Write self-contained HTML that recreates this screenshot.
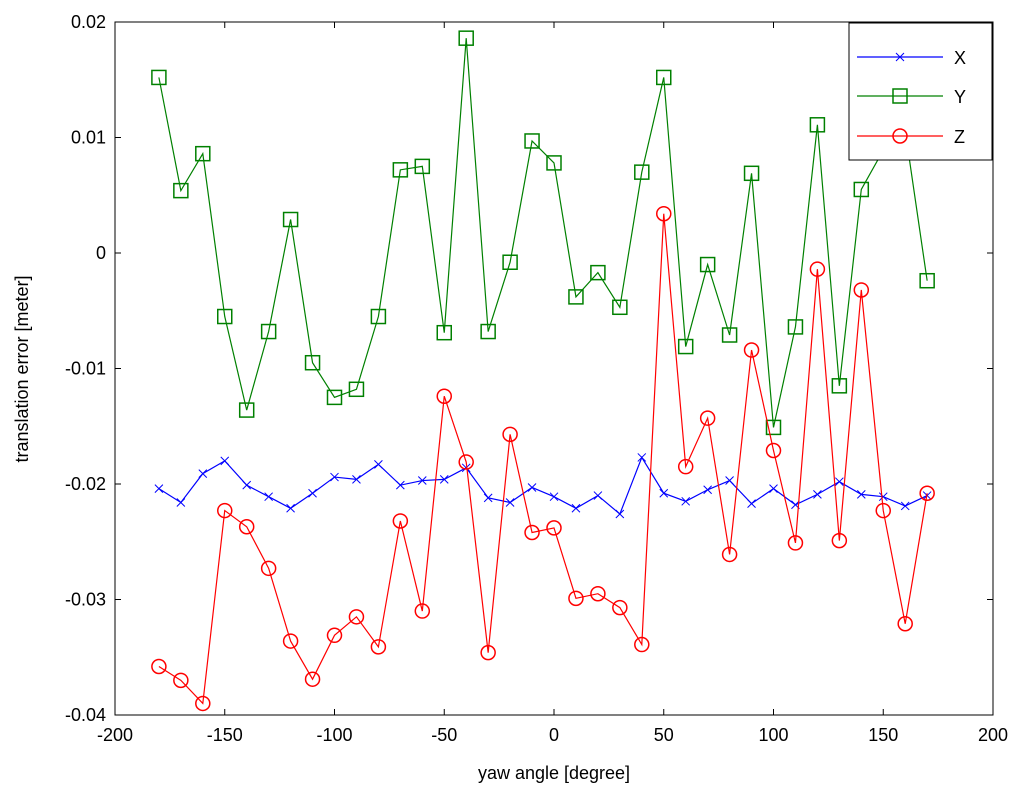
<!DOCTYPE html>
<html><head><meta charset="utf-8"><style>
body{margin:0;background:#fff;}
svg{display:block;font-family:"Liberation Sans",sans-serif;}
</style></head><body>
<svg id="chart" width="1024" height="795">
<rect x="0" y="0" width="1024" height="795" fill="#fff"/>
<g id="grid"></g>
<g id="series"></g>
</svg>
<script>
const xs=[-180,-170,-160,-150,-140,-130,-120,-110,-100,-90,-80,-70,-60,-50,-40,-30,-20,-10,0,10,20,30,40,50,60,70,80,90,100,110,120,130,140,150,160,170];
const pxX=[489,502,474,461,485,497,508,493,477,479,464,485,480,479,468,498,502,487,497,508,495,514,458,493,501,490,480,504,489,505,494,482,494,497,506,495];
const pxY=[77,191,154,316,410,331,220,363,397,389,316,170,166,333,38,331,262,141,163,297,273,307,172,77,346,265,335,173,427,327,125,386,190,150,130,281];
const pxZ=[667,680,704,511,527,568,641,679,635,617,647,521,611,396,462,653,434,533,528,598,594,608,645,214,467,418,554,350,451,543,269,541,290,511,624,493];
const conv=a=>a.map(p=>+((253-p)/11550).toFixed(4));
const seriesX=conv(pxX), seriesY=conv(pxY), seriesZ=conv(pxZ);
const xTicks=[-200,-150,-100,-50,0,50,100,150,200];
const yTicks=[0.02,0.01,0,-0.01,-0.02,-0.03,-0.04];
const yTickLabels=["0.02","0.01","0","-0.01","-0.02","-0.03","-0.04"];

const L=115,R=993,T=22,B=715;
const sx=v=>L+(v+200)/400*(R-L);
const sy=v=>T+(0.02-v)/0.06*(B-T);
const NS="http://www.w3.org/2000/svg";
const svg=document.getElementById('chart');
function mk(t,a,p){const e=document.createElementNS(NS,t);for(const k in a)e.setAttribute(k,a[k]);(p||svg).appendChild(e);return e;}
const g=document.getElementById('grid');
let ax=mk('rect',{x:L,y:T,width:R-L,height:B-T,fill:'none',stroke:'#000','stroke-width':1},g);


xTicks.forEach(v=>{const x=sx(v);
mk('line',{x1:x,y1:B,x2:x,y2:B-6,stroke:'#000'},g);mk('line',{x1:x,y1:T,x2:x,y2:T+6,stroke:'#000'},g);
const t=mk('text',{x:x,y:741,'text-anchor':'middle','font-size':18},g);t.textContent=v;

});
yTicks.forEach((v,i)=>{const y=sy(v);
mk('line',{x1:L,y1:y,x2:L+6,y2:y,stroke:'#000'},g);mk('line',{x1:R,y1:y,x2:R-6,y2:y,stroke:'#000'},g);
const t=mk('text',{x:106,y:y+6,'text-anchor':'end','font-size':18},g);t.textContent=yTickLabels[i];

});
let xl=mk('text',{x:554,y:779,'text-anchor':'middle','font-size':18},g);xl.textContent='yaw angle [degree]';


let yl=mk('text',{x:0,y:0,'text-anchor':'middle','font-size':18,transform:'translate(28,369) rotate(-90)'},g);yl.textContent='translation error [meter]';



const sg=document.getElementById('series');
function marker(type,x,y,c,p){
 if(type==='x'){mk('path',{d:`M${x-4},${y-4}L${x+4},${y+4}M${x-4},${y+4}L${x+4},${y-4}`,stroke:c,fill:'none'},p);}
 else if(type==='s'){mk('rect',{x:x-7,y:y-7,width:14,height:14,stroke:c,fill:'none','stroke-width':1.5},p);}
 else mk('circle',{cx:x,cy:y,r:7,stroke:c,fill:'none','stroke-width':1.5},p);
}
function draw(vals,c,type,name){
 const grp=mk('g',{},sg);
 
 
 mk('polyline',{points:xs.map((x,i)=>sx(x)+','+sy(vals[i])).join(' '),fill:'none',stroke:c,'stroke-width':1.2},grp);
 xs.forEach((x,i)=>marker(type,sx(x),sy(vals[i]),c,grp));
}
draw(seriesX,'#0000ff','x','series-x');
draw(seriesY,'#008000','s','series-y');
draw(seriesZ,'#ff0000','o','series-z');
const lg=mk('g',{});


mk('rect',{x:849,y:23,width:143,height:137,fill:'#fff',stroke:'#000'},lg);
[['X','#0000ff','x',57],['Y','#008000','s',96],['Z','#ff0000','o',136]].forEach(([n,c,t,y])=>{
 const e=mk('g',{},lg);
 
 
 mk('line',{x1:857,y1:y,x2:943,y2:y,stroke:c,'stroke-width':1.2},e);marker(t,900,y,c,e);
 const tx=mk('text',{x:954,y:y+7,'font-size':18},e);tx.textContent=n;});
</script>
</body></html>
